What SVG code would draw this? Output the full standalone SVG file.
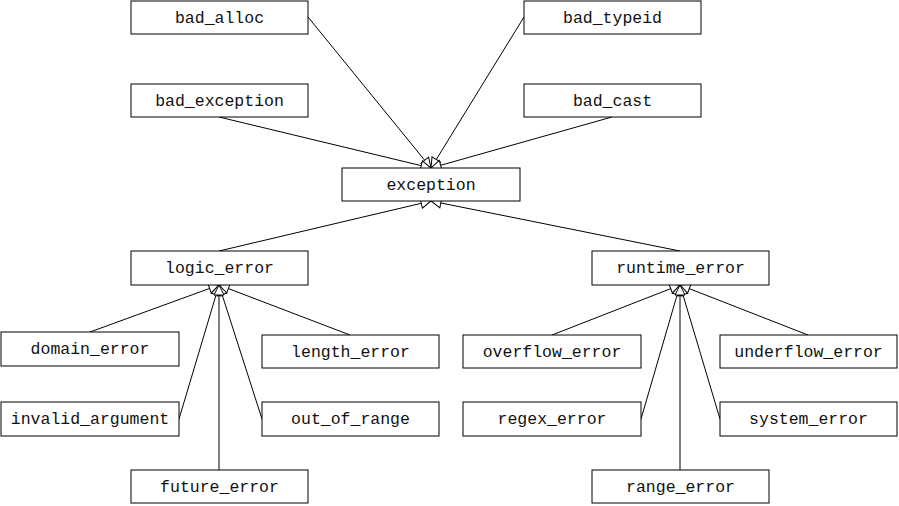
<svg xmlns="http://www.w3.org/2000/svg" width="899" height="506" viewBox="0 0 899 506">
<style>
.n rect{fill:#fff;stroke:#000;stroke-width:1}
.n text{font-family:"Liberation Mono","DejaVu Sans Mono",monospace;font-size:16.5px;fill:#111;text-anchor:middle;dominant-baseline:central}
.e line{stroke:#000;stroke-width:1;marker-end:url(#tri)}
</style>
<defs>
<marker id="tri" markerUnits="userSpaceOnUse" markerWidth="12" markerHeight="12" viewBox="0 0 12 12" refX="11" refY="6" orient="auto">
<path d="M1,1 L11,6 L1,11 Z" fill="#fff" stroke="#000" stroke-width="1"/>
</marker>
</defs>
<rect width="899" height="506" fill="#fff"/>
<g id="connectors" class="e">
<line x1="308" y1="17" x2="431" y2="168"/>
<line x1="524" y1="17" x2="431" y2="168"/>
<line x1="219" y1="117" x2="431" y2="168"/>
<line x1="612" y1="117" x2="431" y2="168"/>
<line x1="219" y1="251" x2="431" y2="201"/>
<line x1="680" y1="251" x2="431" y2="201"/>
<line x1="90" y1="332" x2="219" y2="285"/>
<line x1="350" y1="335" x2="219" y2="285"/>
<line x1="179" y1="419" x2="219" y2="285"/>
<line x1="262" y1="419" x2="219" y2="285"/>
<line x1="219" y1="470" x2="219" y2="285"/>
<line x1="552" y1="335" x2="680" y2="285"/>
<line x1="808" y1="335" x2="680" y2="285"/>
<line x1="641" y1="419" x2="680" y2="285"/>
<line x1="720" y1="419" x2="680" y2="285"/>
<line x1="680" y1="470" x2="680" y2="285"/>
</g>
<g id="bad_alloc" class="n"><rect x="131" y="1" width="177" height="33"/><text x="219.5" y="18">bad_alloc</text></g>
<g id="bad_typeid" class="n"><rect x="524" y="1" width="177" height="33"/><text x="612.5" y="18">bad_typeid</text></g>
<g id="bad_exception" class="n"><rect x="131" y="84" width="177" height="33"/><text x="219.5" y="101">bad_exception</text></g>
<g id="bad_cast" class="n"><rect x="524" y="84" width="177" height="33"/><text x="612.5" y="101">bad_cast</text></g>
<g id="exception" class="n"><rect x="342" y="168" width="178" height="33"/><text x="431" y="185">exception</text></g>
<g id="logic_error" class="n"><rect x="131" y="251" width="177" height="34"/><text x="219.5" y="268">logic_error</text></g>
<g id="runtime_error" class="n"><rect x="592" y="251" width="177" height="34"/><text x="680.5" y="268">runtime_error</text></g>
<g id="domain_error" class="n"><rect x="1" y="332" width="178" height="34"/><text x="90" y="349">domain_error</text></g>
<g id="length_error" class="n"><rect x="262" y="335" width="177" height="33"/><text x="350.5" y="352">length_error</text></g>
<g id="overflow_error" class="n"><rect x="463" y="335" width="178" height="33"/><text x="552" y="352">overflow_error</text></g>
<g id="underflow_error" class="n"><rect x="720" y="335" width="177" height="33"/><text x="808.5" y="352">underflow_error</text></g>
<g id="invalid_argument" class="n"><rect x="1" y="402" width="178" height="34"/><text x="90" y="419">invalid_argument</text></g>
<g id="out_of_range" class="n"><rect x="262" y="402" width="177" height="34"/><text x="350.5" y="419">out_of_range</text></g>
<g id="regex_error" class="n"><rect x="463" y="402" width="178" height="34"/><text x="552" y="419">regex_error</text></g>
<g id="system_error" class="n"><rect x="720" y="402" width="177" height="34"/><text x="808.5" y="419">system_error</text></g>
<g id="future_error" class="n"><rect x="131" y="470" width="177" height="33"/><text x="219.5" y="487">future_error</text></g>
<g id="range_error" class="n"><rect x="592" y="470" width="177" height="33"/><text x="680.5" y="487">range_error</text></g>
</svg>
